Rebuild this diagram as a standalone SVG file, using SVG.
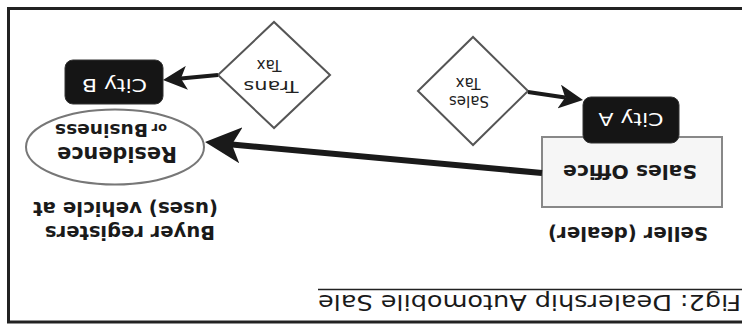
<svg xmlns="http://www.w3.org/2000/svg" width="742" height="328" viewBox="0 0 742 328">
<defs>
<style>
.frame{fill:none;stroke:#222;stroke-width:3}
.t{font-family:"DejaVu Sans",Verdana,sans-serif;fill:#1a1a1a}
.b{font-weight:bold}
.city rect{fill:#151515;stroke:#333;stroke-width:1}
.city text{fill:#fff;font-family:"DejaVu Sans",Verdana,sans-serif;font-size:17px;text-anchor:middle}
.dia polygon{fill:#fff;stroke:#555;stroke-width:2}
.dia text{font-family:"DejaVu Sans",Verdana,sans-serif;font-size:15px;fill:#222;text-anchor:middle}
.conn path{stroke:#1a1a1a;fill:none;stroke-linecap:butt}
</style>
<marker id="barb" viewBox="0 0 6 6" refX="1.5" refY="3" markerWidth="6" markerHeight="6" orient="auto" markerUnits="strokeWidth">
<path d="M0,0 L6,3 L0,6 L1.5,3 z" fill="#1a1a1a"/>
</marker>
</defs>
<rect width="742" height="328" fill="#fff"/>
<g transform="rotate(180 371 164)">
  <path class="frame" d="M-5,6 H733.5 V319.5 H-5"/>
  <g id="title">
    <text class="t" x="1" y="33" font-size="21" textLength="423" lengthAdjust="spacingAndGlyphs">Fig2: Dealership Automobile Sale</text>
    <line x1="-5" y1="38.5" x2="424" y2="38.5" stroke="#222" stroke-width="1.5"/>
  </g>
  <g id="seller-label">
    <text class="t b" x="34" y="101" font-size="19" textLength="160" lengthAdjust="spacingAndGlyphs">Seller (dealer)</text>
  </g>
  <g id="buyer-label">
    <text class="t b" x="527" y="102" font-size="19" textLength="170" lengthAdjust="spacingAndGlyphs">Buyer registers</text>
    <text class="t b" x="524" y="126" font-size="19" textLength="185" lengthAdjust="spacingAndGlyphs">(uses) vehicle at</text>
  </g>
  <g id="sales-office">
    <rect x="20" y="121" width="180" height="70" fill="#f6f6f6" stroke="#888" stroke-width="2"/>
    <text class="t b" x="112" y="163" font-size="20" text-anchor="middle" textLength="134" lengthAdjust="spacingAndGlyphs">Sales Office</text>
  </g>
  <g id="city-a" class="city">
    <rect x="63" y="185" width="96" height="46" rx="8"/>
    <text x="111" y="215" textLength="65" lengthAdjust="spacingAndGlyphs">City A</text>
  </g>
  <g id="sales-tax" class="dia">
    <polygon points="269,183 324,237 269,291 214,237"/>
    <text x="273" y="232">Sales</text>
    <text x="274" y="250">Tax</text>
  </g>
  <g id="trans-tax" class="dia">
    <polygon points="468,200 524,253 468,306 412,253"/>
    <text x="471" y="247" font-size="16" textLength="55" lengthAdjust="spacingAndGlyphs">Trans</text>
    <text x="473" y="268" font-size="16">Tax</text>
  </g>
  <g id="residence">
    <ellipse cx="627" cy="181" rx="89" ry="37.5" fill="#fff" stroke="#777" stroke-width="2"/>
    <text class="t b" x="625" y="181" font-size="21" text-anchor="middle" textLength="120" lengthAdjust="spacingAndGlyphs">Residence</text>
    <text class="t b" x="575" y="204" font-size="13">or</text>
    <text class="t b" x="594" y="204" font-size="18" textLength="93" lengthAdjust="spacingAndGlyphs">Business</text>
  </g>
  <g id="city-b" class="city">
    <rect x="579" y="224" width="98" height="44" rx="8"/>
    <text x="627.5" y="249" textLength="65" lengthAdjust="spacingAndGlyphs">City B</text>
  </g>
  <g id="connectors" class="conn">
    <path d="M200,155 L510.1,183.5" stroke-width="6" marker-end="url(#barb)"/>
    <path d="M214,236 L176.8,230.6" stroke-width="4" marker-end="url(#barb)"/>
    <path d="M524,253 L561.1,249.6" stroke-width="4" marker-end="url(#barb)"/>
  </g>
</g>
</svg>
